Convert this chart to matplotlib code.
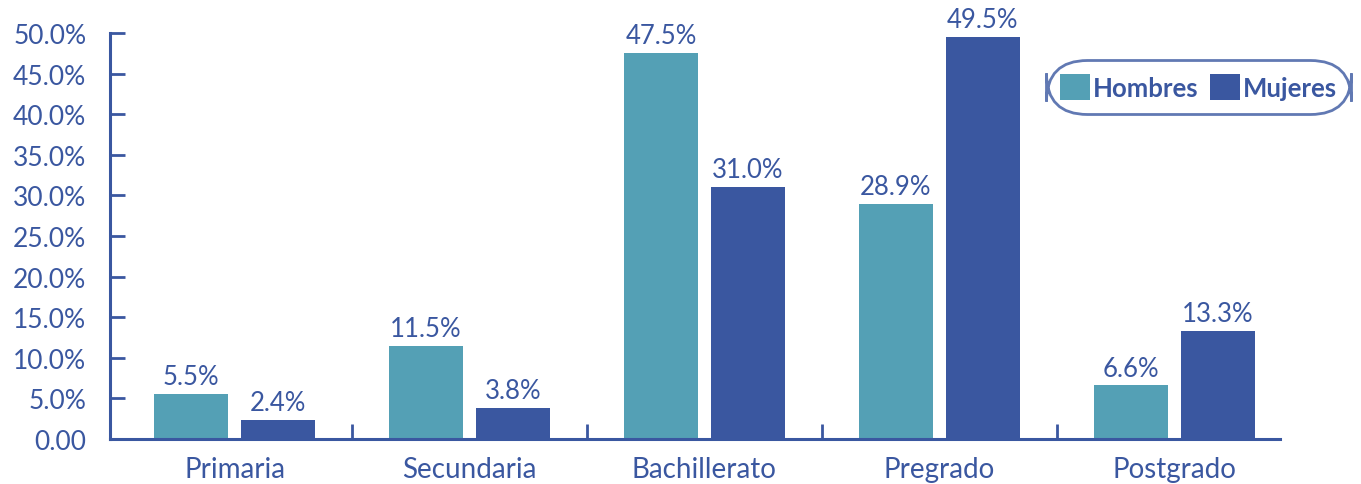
import matplotlib.pyplot as plt
import numpy as np

niveles = ["Primaria", "Secundaria", "Bachillerato", "Pregrado", "Postgrado"]
hombres = [5.5, 11.5, 47.5, 28.9, 6.6]
mujeres = [2.4, 3.8, 31.0, 49.5, 13.3]
yticks = [0, 5, 10, 15, 20, 25, 30, 35, 40, 45, 50]
ytick_labels = ["0.00"] + [f"{v:.1f}%" for v in yticks[1:]]

c_hom = "#54a0b5"
c_muj = "#3a57a0"
c_txt = "#3a57a0"

plt.rcParams["font.family"] = ["Lato", "DejaVu Sans"]

fig = plt.figure(figsize=(13.61, 4.85), dpi=100)
ax = fig.add_axes([110 / 1361, 45 / 485, 1170 / 1361, 406 / 485])

x = np.arange(len(niveles))
w = 0.315
off = 0.185
b1 = ax.bar(x - off, hombres, w, color=c_hom)
b2 = ax.bar(x + off, mujeres, w, color=c_muj)

for bars, vals in ((b1, hombres), (b2, mujeres)):
    for b, v in zip(bars, vals):
        ax.text(b.get_x() + b.get_width() / 2, v + 0.6, f"{v:.1f}%",
                ha="center", va="bottom", fontsize=18.5, color=c_txt)

ax.set_xlim(-0.53, len(niveles) - 0.55)
ax.set_ylim(0, 50)
ax.set_yticks(yticks)
ax.set_yticklabels(ytick_labels)

# category labels centred, ticks between groups
ax.set_xticks(x)
ax.set_xticklabels(niveles)
ax.tick_params(axis="x", which="major", length=0, pad=12, labelsize=20, labelcolor=c_txt)
ax.set_xticks(np.arange(0.5, len(niveles) - 0.5), minor=True)
ax.tick_params(axis="x", which="minor", direction="in", length=11, width=2, color=c_txt)
ax.tick_params(axis="y", direction="in", length=11, width=2, color=c_txt,
               labelsize=19, labelcolor=c_txt, pad=17)

for s in ("top", "right"):
    ax.spines[s].set_visible(False)
for s in ("left", "bottom"):
    ax.spines[s].set_color(c_txt)
    ax.spines[s].set_linewidth(2.2)

leg = ax.legend([b1, b2], ["Hombres", "Mujeres"], loc="upper right",
                bbox_to_anchor=(1.0595, 0.93), borderaxespad=0, ncol=2, frameon=True,
                fancybox=True, handlelength=1.15, handleheight=1.15,
                handletextpad=0.12, columnspacing=0.45, borderpad=0.5,
                prop={"weight": "bold", "size": 18.5})
for t in leg.get_texts():
    t.set_color(c_txt)
frame = leg.get_frame()
frame.set_edgecolor(c_txt)
frame.set_linewidth(2)
frame.set_boxstyle("round,pad=0.05,rounding_size=1.6")
leg.set_clip_on(False)

fig.savefig("out.png", dpi=100)
